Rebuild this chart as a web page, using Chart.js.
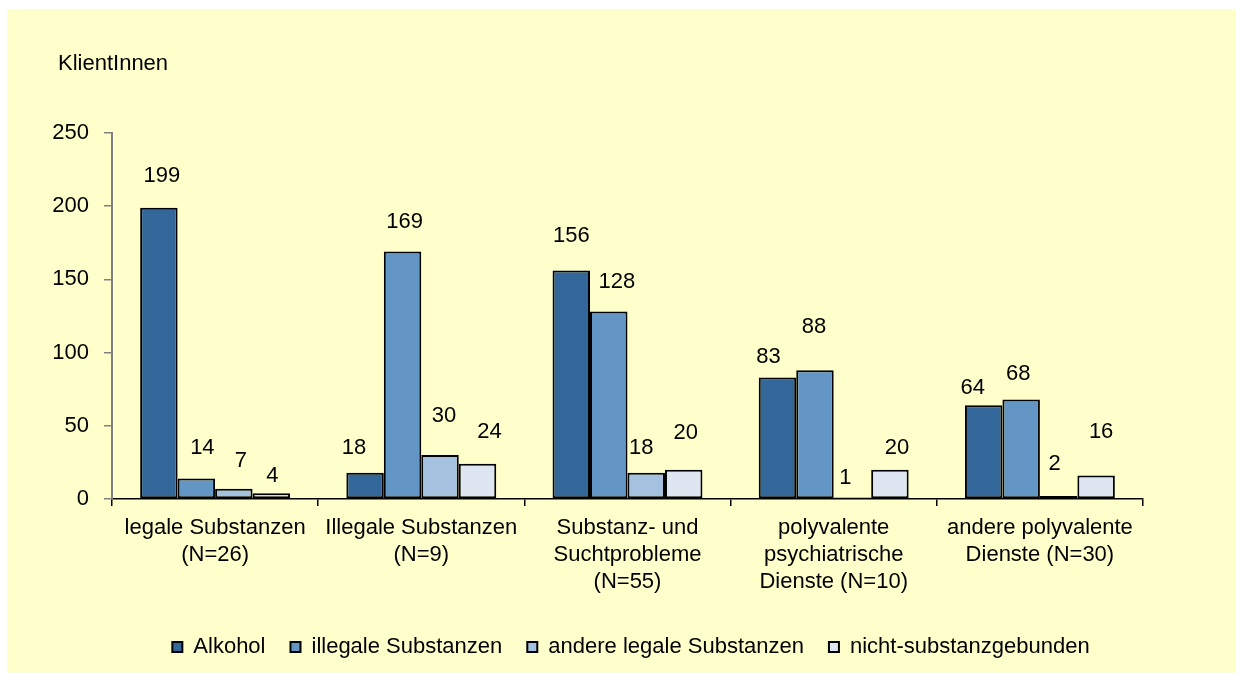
<!DOCTYPE html>
<html>
<head>
<meta charset="utf-8">
<script src="https://cdn.jsdelivr.net/npm/chart.js@4/dist/chart.umd.min.js"></script>
<style>
  html, body { margin: 0; padding: 0; background: #ffffff; width: 1236px; height: 673px; overflow: hidden; }
  #wrap { position: absolute; left: 7px; top: 9px; width: 1229px; height: 664px; background: #FFFFCC; }
  canvas { display: block; }
</style>
</head>
<body>
<div id="wrap"><canvas id="c" width="1229" height="664"></canvas></div>
<script>
// ---- data ----
const categories = [
  ["legale Substanzen", "(N=26)"],
  ["Illegale Substanzen", "(N=9)"],
  ["Substanz- und", "Suchtprobleme", "(N=55)"],
  ["polyvalente", "psychiatrische", "Dienste (N=10)"],
  ["andere polyvalente", "Dienste (N=30)"]
];
const seriesNames = ["Alkohol", "illegale Substanzen", "andere legale Substanzen", "nicht-substanzgebunden"];
const alkohol = [199, 18, 156, 83, 64];
const illegale = [14, 169, 128, 88, 68];
const andereLegale = [7, 30, 18, 1, 2];
const nichtSubstanz = [4, 24, 20, 20, 16];
const yTicks = [0, 50, 100, 150, 200, 250];
const axisTitle = "KlientInnen";

// ---- styles ----
const FONT = "'Liberation Sans', Arial, sans-serif";
const FS = 22;
const colors = ["#336699", "#6396C5", "#A4C2DF", "#DDE6F1"];
// label nudges [dx, lift above bar top] per series, per category
const labelNudge = [
  [[3, 32], [-11, 25], [0, 35], [-9, 21], [-11, 17]],
  [[6, 31], [2, 30], [8, 30], [-1, 43], [-3, 26]],
  [[7, 28], [4, 39], [-5, 25], [-7, 20], [-4, 32]],
  [[1, 17], [12, 32], [2, 37], [7, 22], [5, 44]]
];

const seriesData = [alkohol, illegale, andereLegale, nichtSubstanz];

const labelPlugin = {
  id: 'barLabels',
  afterLayout(chart) {
    const lg = chart.legend;
    if (lg) { lg.left += 56; lg.right += 56; }
  },
  afterDatasetsDraw(chart) {
    const ctx = chart.ctx;
    ctx.save();
    ctx.font = FS + "px " + FONT;
    ctx.fillStyle = "#000000";
    ctx.textAlign = "center";
    ctx.textBaseline = "middle";
    chart.data.datasets.forEach((ds, di) => {
      const meta = chart.getDatasetMeta(di);
      meta.data.forEach((el, i) => {
        const n = labelNudge[di][i];
        ctx.fillText(String(ds.data[i]), el.x + n[0], el.y - n[1]);
      });
    });
    // axis title
    ctx.textAlign = "left";
    ctx.fillText(axisTitle, 51, 55);
    ctx.restore();
  }
};

new Chart(document.getElementById('c'), {
  type: 'bar',
  data: {
    labels: categories,
    datasets: seriesData.map((d, i) => ({
      label: seriesNames[i],
      data: d,
      backgroundColor: colors[i],
      borderColor: "#000000",
      borderWidth: 2,
      borderSkipped: false
    }))
  },
  options: {
    responsive: false,
    animation: false,
    devicePixelRatio: 1,
    layout: { padding: { top: 124, right: 93, left: 0, bottom: 5 } },
    datasets: { bar: { categoryPercentage: 0.727, barPercentage: 1.0 } },
    scales: {
      x: {
        afterFit(scale) { scale.height = 112; },
        grid: { display: true, drawOnChartArea: false, drawTicks: true, tickLength: 7, color: "#000000", lineWidth: 1.5, offset: true },
        border: { display: true, color: "#000000", width: 1.5 },
        ticks: { color: "#000000", font: { family: FONT, size: FS, lineHeight: 1.24 }, padding: 8, maxRotation: 0, autoSkip: false }
      },
      y: {
        min: 0, max: 250,
        afterFit(scale) { scale.width = 105; },
        afterBuildTicks(scale) { scale.ticks = yTicks.map(v => ({ value: v })); },
        grid: { display: true, drawOnChartArea: false, drawTicks: true, tickLength: 8, color: "#808080", lineWidth: 1.5 },
        border: { display: true, color: "#808080", width: 2 },
        ticks: { color: "#000000", font: { family: FONT, size: FS }, padding: 15 }
      }
    },
    plugins: {
      legend: {
        position: 'bottom',
        labels: {
          color: "#000000",
          font: { family: FONT, size: FS },
          boxWidth: 10, boxHeight: 10,
          padding: 25
        }
      },
      tooltip: { enabled: false },
      title: { display: false }
    }
  },
  plugins: [labelPlugin]
});
</script>
</body>
</html>
